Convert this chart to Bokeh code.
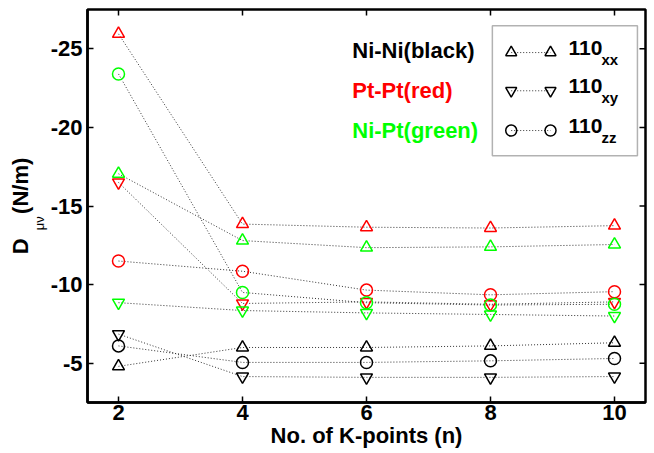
import numpy as np
from bokeh.plotting import figure
from bokeh.models import Range1d, LinearAxis, FixedTicker, Label, BoxAnnotation
from bokeh.embed import file_html
from bokeh.resources import INLINE

# ---------------- data ----------------
k_points = [2, 4, 6, 8, 10]

ni_ni_xx = [-4.8, -6.0, -6.0, -6.1, -6.3]
ni_ni_xy = [-6.85, -4.15, -4.1, -4.1, -4.15]
ni_ni_zz = [-6.1, -5.05, -5.05, -5.15, -5.3]

pt_pt_xx = [-25.95, -13.85, -13.65, -13.6, -13.75]
pt_pt_xy = [-16.5, -8.8, -8.9, -8.75, -8.9]
pt_pt_zz = [-11.5, -10.85, -9.65, -9.35, -9.55]

ni_pt_xx = [-17.05, -12.8, -12.35, -12.4, -12.55]
ni_pt_xy = [-8.85, -8.35, -8.2, -8.1, -8.0]
ni_pt_zz = [-23.4, -9.5, -8.85, -8.7, -8.75]

x_ticks = [2, 4, 6, 8, 10]
y_ticks = [-5, -10, -15, -20, -25]
y_tick_labels = ["-5", "-10", "-15", "-20", "-25"]

group_labels = ["Ni-Ni(black)", "Pt-Pt(red)", "Ni-Pt(green)"]
legend_main = ["110", "110", "110"]
legend_sub = ["xx", "xy", "zz"]

# ---------------- style ----------------
FONT = "Liberation Sans"
BLACK, RED, GREEN = "#000000", "#ff0000", "#00ff00"
group_colors = [BLACK, RED, GREEN]
markers = ["triangle", "inverted_triangle", "circle"]
NB = "\u00a0"

X0, X1 = 1.5, 10.5
Y0, Y1 = -2.5, -27.5

p = figure(width=648, height=450, output_backend="svg", toolbar_location=None,
           x_range=Range1d(X0, X1), y_range=Range1d(Y0, Y1),
           min_border_left=87, min_border_right=3, min_border_top=9,
           min_border_bottom=0)
p.grid.visible = False
p.outline_line_color = "black"
p.outline_line_width = 2.5
p.background_fill_color = "white"
p.border_fill_color = "white"

for ax in (p.xaxis[0], p.yaxis[0]):
    ax.major_tick_in = 6
    ax.major_tick_out = 0
    ax.minor_tick_in = 0
    ax.minor_tick_out = 0
    ax.axis_line_width = 2.5
    ax.major_tick_line_width = 1.5
    ax.major_label_text_font = FONT
    ax.major_label_text_font_style = "bold"
    ax.major_label_text_font_size = "22px"
    ax.major_label_text_color = "black"

p.xaxis.ticker = FixedTicker(ticks=x_ticks)
p.yaxis.ticker = FixedTicker(ticks=y_ticks)
p.yaxis.major_label_overrides = {t: s for t, s in zip(y_ticks, y_tick_labels)}
p.xaxis.major_label_standoff = 2
p.yaxis.major_label_standoff = 5
p.xaxis.axis_label = "No. of K-points (n)"
p.xaxis.axis_label_text_font = FONT
p.xaxis.axis_label_text_font_style = "bold"
p.xaxis.axis_label_text_font_size = "22px"
p.xaxis.axis_label_text_color = "black"
p.xaxis.axis_label_standoff = 0

# ---------------- y axis label D_{mu nu} (N/m) ----------------
# subscript: a small label in the left panel (between tick labels and "D")
p.add_layout(Label(x=0.726, y=-13.9, text="μν", angle=np.pi / 2, text_font=FONT,
                   text_font_size="13px", text_align="center",
                   text_baseline="middle", text_color="black"), "left")
# "D ... (N/m)" on an outer axis without ticks
outer = LinearAxis(ticker=FixedTicker(ticks=[]), axis_line_color=None,
                   major_tick_in=0, major_tick_out=0, minor_tick_in=0, minor_tick_out=0,
                   major_label_standoff=0,
                   axis_label="D" + NB * 4 + "(N/m)", axis_label_standoff=0,
                   axis_label_text_font=FONT, axis_label_text_font_style="bold",
                   axis_label_text_font_size="22px", axis_label_text_color="black")
p.add_layout(outer, "left")

# inner ticks on top and right edges (mirroring the bottom/left ticks)
top_len = 6 * (Y0 - Y1) / 393.0
right_len = 6 * (X1 - X0) / 558.0
p.segment(x0=x_ticks, y0=[Y1] * len(x_ticks), x1=x_ticks, y1=[Y1 + top_len] * len(x_ticks),
          line_color="black", line_width=1.5)
p.segment(x0=[X1] * len(y_ticks), y0=y_ticks, x1=[X1 - right_len] * len(y_ticks), y1=y_ticks,
          line_color="black", line_width=1.5)

series = [
    (ni_ni_xx, BLACK, "triangle"), (ni_ni_xy, BLACK, "inverted_triangle"), (ni_ni_zz, BLACK, "circle"),
    (pt_pt_xx, RED, "triangle"), (pt_pt_xy, RED, "inverted_triangle"), (pt_pt_zz, RED, "circle"),
    (ni_pt_xx, GREEN, "triangle"), (ni_pt_xy, GREEN, "inverted_triangle"), (ni_pt_zz, GREEN, "circle"),
]
for vals, col, mk in series:
    p.line(k_points, vals, line_color="#333333", line_width=1, line_dash="1 2")
for vals, col, mk in series:
    p.scatter(k_points, vals, marker=mk, size=12, fill_color=None, line_color=col, line_width=1.5)

# ---------------- group text labels ----------------
group_x = 5.77
group_y = [-24.87, -22.33, -19.78]
for txt, col, gy in zip(group_labels, group_colors, group_y):
    p.add_layout(Label(x=group_x, y=gy, text=txt, text_color=col, text_font=FONT,
                       text_font_style="bold", text_font_size="22px",
                       text_align="left", text_baseline="middle"))

# ---------------- legend box ----------------
p.add_layout(BoxAnnotation(left=8.03, right=10.37, top=-26.46, bottom=-18.19,
                           fill_alpha=0, line_color="black", line_width=1.5,
                           level="underlay"))
leg_x0, leg_x1 = 8.334, 8.968
leg_y = [-24.76, -22.33, -19.80]
for mk, ly, main, sub in zip(markers, leg_y, legend_main, legend_sub):
    p.line([leg_x0, leg_x1], [ly, ly], line_color="#333333", line_width=1, line_dash="1 2")
    p.scatter([leg_x0, leg_x1], [ly, ly], marker=mk, size=11, fill_color=None,
              line_color="black", line_width=1.5)
    p.add_layout(Label(x=9.258, y=ly - 0.32, text=main, text_font=FONT, text_font_style="bold",
                       text_font_size="21px", text_align="left", text_baseline="middle",
                       text_color="black"))
    p.add_layout(Label(x=9.79, y=ly + 0.45, text=sub, text_font=FONT, text_font_style="bold",
                       text_font_size="15px", text_align="left", text_baseline="middle",
                       text_color="black"))

open("out.html", "w").write(file_html(p, INLINE))
